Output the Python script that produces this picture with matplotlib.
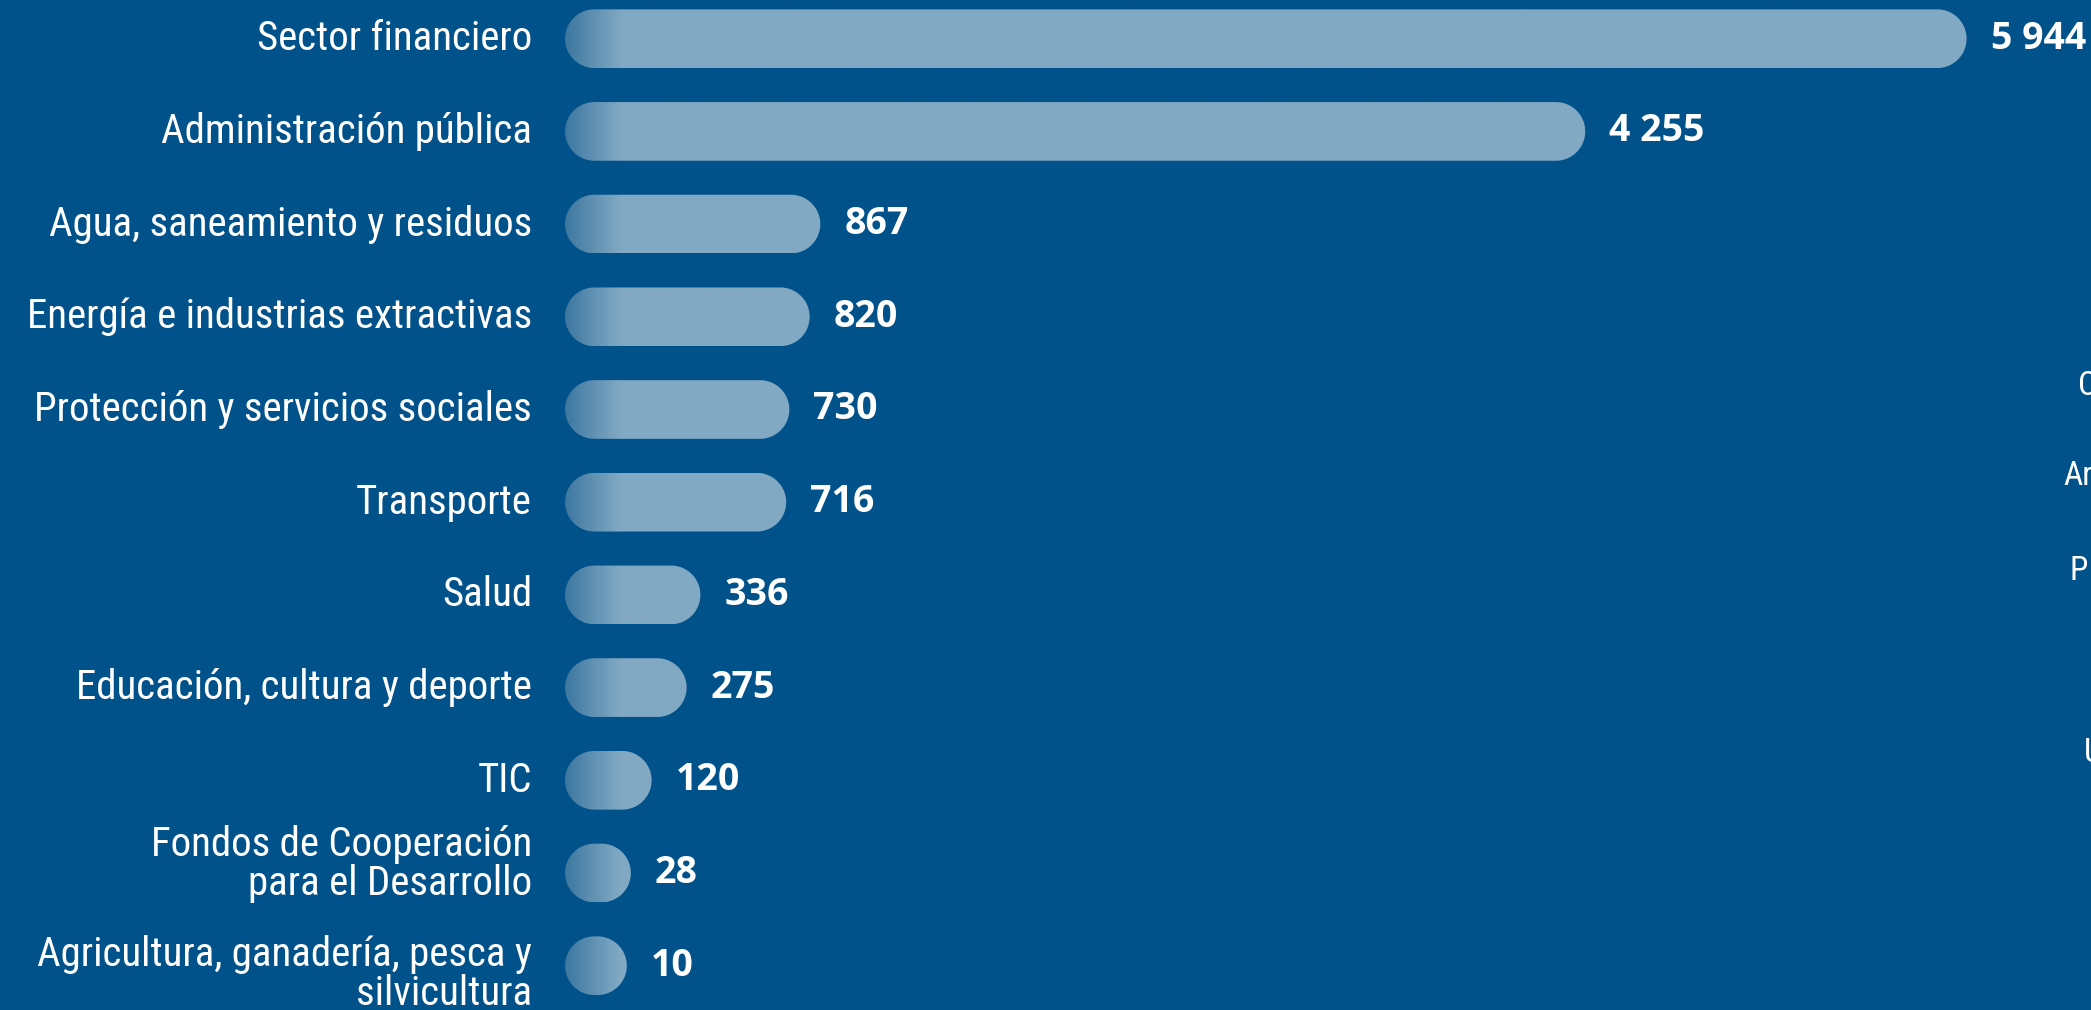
import numpy as np
import matplotlib
matplotlib.use("Agg")
import matplotlib.pyplot as plt
from matplotlib.patches import Polygon
from matplotlib.colors import to_rgb
from matplotlib import font_manager as fm

# ---------------- data ----------------
categories = [
    "Sector financiero",
    "Administración pública",
    "Agua, saneamiento y residuos",
    "Energía e industrias extractivas",
    "Protección y servicios sociales",
    "Transporte",
    "Salud",
    "Educación, cultura y deporte",
    "TIC",
    "Fondos de Cooperación\npara el Desarrollo",
    "Agricultura, ganadería, pesca y\nsilvicultura",
]
values = [5944, 4255, 867, 820, 730, 716, 336, 275, 120, 28, 10]
value_labels = ["5 944", "4 255", "867", "820", "730", "716", "336", "275", "120", "28", "10"]
# letters of a neighbouring chart cut off at the right edge
clipped_labels = ["C", "Ar", "P", "U"]
clipped_pos = [(2078, 386), (2063, 476), (2070, 571), (2084, 753)]

# ---------------- style ----------------
BG = "#01528a"
BAR_LIGHT = np.array(to_rgb("#82a9c4"))
BAR_DARK = np.array(to_rgb("#3d77a0"))
label_dy_px = [0, 0, 0, 0, 0, 0, 0, 0, 0, -9, 8]

available = {f.name for f in fm.fontManager.ttflist}
LABEL_FAMILY = "DejaVu Sans"
for cand in ["Roboto Condensed", "Liberation Sans Narrow", "Open Sans Condensed", "Lato", "Roboto"]:
    if cand in available:
        LABEL_FAMILY = cand
        break
VALUE_FAMILY = "Open Sans" if "Open Sans" in available else "DejaVu Sans"

W, H, DPI = 2091, 1010, 100
fig = plt.figure(figsize=(W / DPI, H / DPI), dpi=DPI, facecolor=BG)
ax = fig.add_axes([0, 0, 1, 1])
ax.set_facecolor(BG)

# label size chosen so that the first label is ~275 px wide, as in the reference
renderer = fig.canvas.get_renderer()
probe = fig.text(0, 0, categories[0], fontsize=20, family=[LABEL_FAMILY, "DejaVu Sans"])
w20 = probe.get_window_extent(renderer).width
probe.remove()
LABEL_SIZE = min(31, 20 * 275 / w20)

XMIN, XMAX = -2766, 6495
YMIN, YMAX = -0.4175, 10.478

x0 = -263.5        # start of every bar (room for the rounded cap)
bar_h = 0.633
px_x = W / (XMAX - XMIN)
px_y = H / (YMAX - YMIN)
ry = bar_h / 2
rx = ry * px_y / px_x
grad_len = 55 / px_x

for i, (cat, v, vl) in enumerate(zip(categories, values, value_labels)):
    # stadium shaped bar
    t1 = np.linspace(np.pi / 2, 3 * np.pi / 2, 60)
    left = np.column_stack([x0 + rx + rx * np.cos(t1), i + ry * np.sin(t1)])
    t2 = np.linspace(-np.pi / 2, np.pi / 2, 60)
    right = np.column_stack([v - rx + rx * np.cos(t2), i + ry * np.sin(t2)])
    poly = Polygon(np.vstack([left, right]), closed=True, fc="none", lw=0)
    ax.add_patch(poly)
    xs = np.linspace(x0, v, 600)
    tt = np.clip((xs - x0) / grad_len, 0, 1)[:, None]
    img = (BAR_DARK * (1 - tt) + BAR_LIGHT * tt)[None, :, :]
    im = ax.imshow(img, extent=(x0, v, i + ry, i - ry), aspect="auto",
                   interpolation="bilinear", zorder=2)
    im.set_clip_path(poly)

    ax.annotate(cat, xy=(x0, i), xytext=(-33 * 0.72, -label_dy_px[i] * 0.72),
                textcoords="offset points",
                ha="right", va="center", fontsize=LABEL_SIZE, color="white",
                family=[LABEL_FAMILY, "DejaVu Sans"], linespacing=1.0)
    ax.annotate(vl, xy=(v, i), xytext=(24 * 0.72, 0), textcoords="offset points",
                ha="left", va="center", fontsize=27, fontweight="bold", color="white",
                family=[VALUE_FAMILY, "DejaVu Sans"])

for s, (px, py) in zip(clipped_labels, clipped_pos):
    fig.text(px / W, 1 - py / H, s, ha="left", va="center", fontsize=24,
             color="white", family=[LABEL_FAMILY, "DejaVu Sans"])

ax.set_xlim(XMIN, XMAX)
ax.set_ylim(YMAX, YMIN)
ax.axis("off")

fig.savefig("out.png", dpi=DPI, facecolor=BG)
